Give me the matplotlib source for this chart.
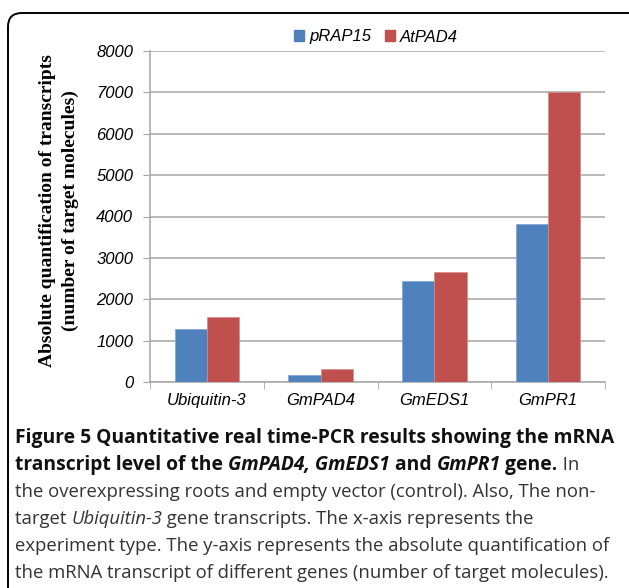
import matplotlib
matplotlib.use("Agg")
import matplotlib.pyplot as plt
import numpy as np
from matplotlib.patches import FancyBboxPatch, Patch

# ---------------------------- data ----------------------------
genes = ["Ubiquitin-3", "GmPAD4", "GmEDS1", "GmPR1"]
prap15 = [1275, 170, 2430, 3825]
atpad4 = [1560, 312, 2670, 7020]
series_names = ["pRAP15", "AtPAD4"]
yticks = [0, 1000, 2000, 3000, 4000, 5000, 6000, 7000, 8000]

blue = "#4f81bd"
red = "#c0504d"
grid_col = "#a6a6a6"

W, H = 629, 588
fig = plt.figure(figsize=(W / 100, H / 100), dpi=100, facecolor="white")

# rounded frame around the chart (runs off the right / bottom edge)
frame = FancyBboxPatch((8 / W, -0.05), 1.1, 1 - 13 / H + 0.05,
                       boxstyle="round,pad=0,rounding_size=0.022",
                       mutation_aspect=W / H, transform=fig.transFigure,
                       facecolor="none", edgecolor="black", linewidth=1.4)
fig.add_artist(frame)

# ---------------------------- chart ----------------------------
ax = fig.add_axes([150 / W, 1 - 382 / H, 455 / W, 331 / H])
x = np.arange(len(genes))
bw = 0.283
ax.bar(x - bw / 2, prap15, bw, color=blue, edgecolor="#7fa3d1", linewidth=0.5, zorder=3)
ax.bar(x + bw / 2, atpad4, bw, color=red, edgecolor="#d98a88", linewidth=0.5, zorder=3)

tick_font = {"family": "Liberation Sans", "style": "italic", "size": 12}
ax.set_xlim(-0.5, len(genes) - 0.5)
ax.set_ylim(0, 8000)
ax.set_yticks(yticks)
ax.set_yticklabels([str(v) for v in yticks], fontdict=tick_font)
ax.set_xticks(x)
ax.set_xticklabels(genes, fontdict=tick_font)
ax.set_xticks(np.arange(-0.5, len(genes)), minor=True)
ax.tick_params(axis="x", which="major", length=0, pad=8)
ax.tick_params(axis="x", which="minor", length=5, color=grid_col, direction="out")
ax.tick_params(axis="y", length=5, color=grid_col, pad=7)
ax.grid(axis="y", color=grid_col, linewidth=1.1, zorder=0)
for s in ["top", "right"]:
    ax.spines[s].set_visible(False)
for s in ["left", "bottom"]:
    ax.spines[s].set_color(grid_col)
    ax.spines[s].set_linewidth(1.1)

fig.text(59 / W, 1 - 211 / H,
         "Absolute quantification of transcripts\n(number of target molecules)",
         rotation=90, ha="center", va="center", multialignment="center",
         fontfamily="Liberation Serif", fontweight="bold", fontsize=14,
         linespacing=1.42)

handles = [Patch(color=blue), Patch(color=red)]
fig.legend(handles, series_names, loc="center", bbox_to_anchor=(376 / W, 1 - 37 / H),
           ncol=2, frameon=False, handlelength=0.6, handleheight=0.6,
           handletextpad=0.3, columnspacing=0.8,
           prop={"family": "Liberation Sans", "style": "italic", "size": 12})

# ---------------------------- caption ----------------------------
caption = [
    [("Figure 5 Quantitative real time-PCR results showing the mRNA", "bold", "normal")],
    [("transcript level of the ", "bold", "normal"), ("GmPAD4, GmEDS1", "bold", "italic"),
     (" and ", "bold", "normal"), ("GmPR1", "bold", "italic"), (" gene.", "bold", "normal"),
     (" In", "normal", "normal")],
    [("the overexpressing roots and empty vector (control). Also, The non-", "normal", "normal")],
    [("target ", "normal", "normal"), ("Ubiquitin-3", "normal", "italic"),
     (" gene transcripts. The x-axis represents the", "normal", "normal")],
    [("experiment type. The y-axis represents the absolute quantification of", "normal", "normal")],
    [("the mRNA transcript of different genes (number of target molecules).", "normal", "normal")],
]
baselines = [443, 470, 497, 524, 551, 578]

fig.canvas.draw()
renderer = fig.canvas.get_renderer()
for line, yb in zip(caption, baselines):
    xp = 15
    for txt, wt, st in line:
        t = fig.text(xp / W, 1 - yb / H, txt, fontfamily="Open Sans",
                     fontsize=13.9 if wt == "bold" else 13.3,
                     fontweight=wt, fontstyle=st, color="#111111" if wt == "bold" else "#333333",
                     va="baseline", ha="left")
        bb = t.get_window_extent(renderer)
        xp += bb.width

fig.savefig("out.png", dpi=100, facecolor="white")
